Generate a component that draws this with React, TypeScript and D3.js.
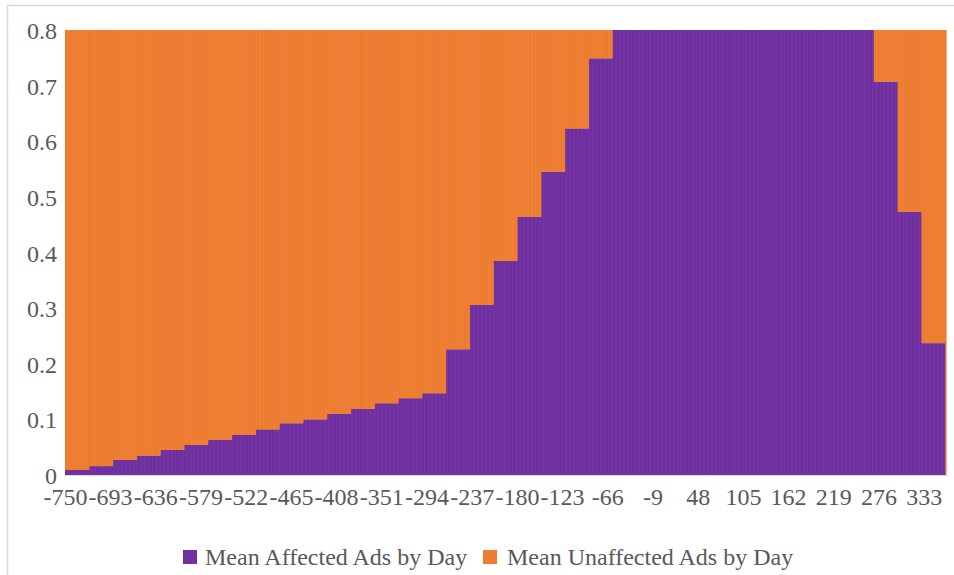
import React from "react";
import * as d3 from "d3";

// Day categories (days relative to the event)
const firstDay = -750;
const lastDay = 360;
// Mean share of affected ads, one level per 30-day block starting at day -750
const monthlyAffected = [
  0.009, 0.016, 0.027, 0.035, 0.045, 0.054, 0.063, 0.072, 0.082, 0.093,
  0.1, 0.11, 0.119, 0.129, 0.138, 0.147, 0.226, 0.306, 0.385, 0.464,
  0.545, 0.623, 0.749, 0.84, 0.88, 0.92, 0.95, 0.97, 0.98, 0.97,
  0.95, 0.92, 0.88, 0.84, 0.707, 0.473, 0.237,
];
const blockLength = 30;
const tickEvery = 57;
const yTicks = [0, 0.1, 0.2, 0.3, 0.4, 0.5, 0.6, 0.7, 0.8];
const seriesNames = ["Mean Affected Ads by Day", "Mean Unaffected Ads by Day"];
const colors = ["#7030A0", "#ED7D31"];

const days = d3.range(firstDay, lastDay + 1);
const rows = days.map((day) => {
  const affected = monthlyAffected[Math.floor((day - firstDay) / blockLength)] ?? 0;
  return { day, affected, unaffected: 1 - affected };
});

const W = 954;
const H = 575;
const left = 65;
const right = 946;
const top = 30;
const bottom = 475;
const textColor = "#595959";
const font = "'Liberation Serif', 'Times New Roman', serif";

export default function App() {
  const x = d3.scaleBand<number>().domain(days).range([left, right]).paddingInner(0).paddingOuter(0);
  const y = d3.scaleLinear().domain([0, 0.8]).range([bottom, top]);
  const stack = d3.stack<any>().keys(["affected", "unaffected"]);
  const series = stack(rows);
  const bw = x.bandwidth();
  const xTickDays = days.filter((d, i) => i % tickEvery === 0);

  return (
    <svg
      width={W}
      height={H}
      style={{ position: "absolute", left: 0, top: 0, background: "#fff" }}
      fontFamily={font}
    >
      <defs>
        <clipPath id="plotClip">
          <rect x={left} y={top} width={right - left + 2} height={bottom - top} />
        </clipPath>
      </defs>
      <rect x={7.5} y={5.5} width={1200} height={1200} fill="#fff" stroke="#d9d9d9" strokeWidth={1.5} />
      <g clipPath="url(#plotClip)">
        {series.map((s, si) => (
          <g key={si} fill={colors[si]}>
            {s.map((p, i) => (
              <rect
                key={i}
                x={x(p.data.day)!}
                y={y(p[1])}
                width={bw + 0.6}
                height={Math.max(0, y(p[0]) - y(p[1]))}
              />
            ))}
          </g>
        ))}
      </g>
      <line x1={left} x2={right + 1} y1={bottom + 0.5} y2={bottom + 0.5} stroke="#d9d9d9" strokeWidth={1} />
      {yTicks.map((t) => (
        <text key={t} x={57} y={y(t) + 9} textAnchor="end" fontSize={24} fill={textColor}>
          {String(t)}
        </text>
      ))}
      {xTickDays.map((d) => (
        <text key={d} x={x(d)! + bw / 2} y={505} textAnchor="middle" fontSize={24} fill={textColor}>
          {String(d)}
        </text>
      ))}
      <g>
        <rect x={183} y={550} width={14} height={14} fill={colors[0]} />
        <text x={205} y={565} fontSize={24} fill={textColor}>
          {seriesNames[0]}
        </text>
        <rect x={483} y={550} width={14} height={14} fill={colors[1]} />
        <text x={507} y={565} fontSize={24} fill={textColor}>
          {seriesNames[1]}
        </text>
      </g>
    </svg>
  );
}
